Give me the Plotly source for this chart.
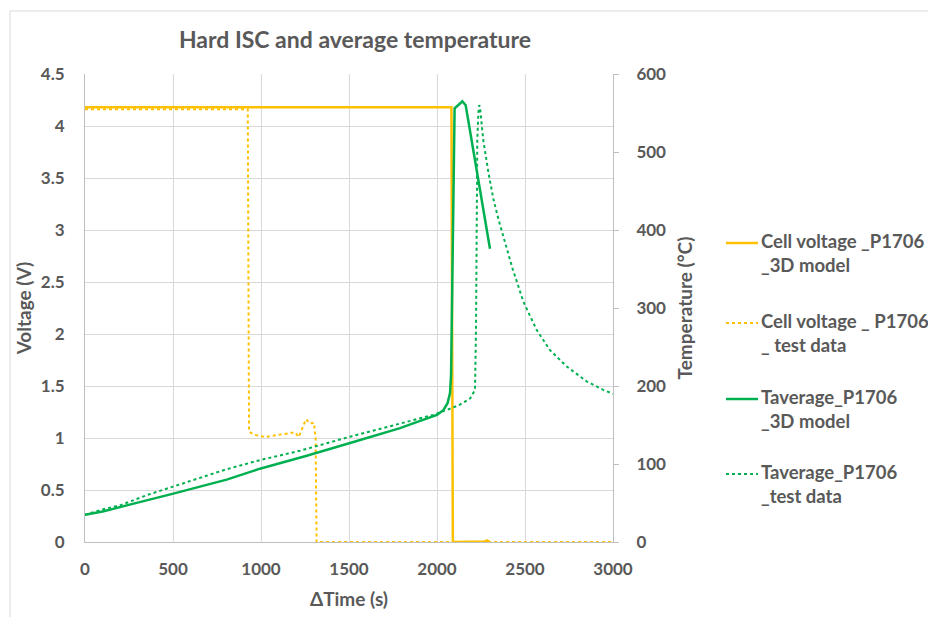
import plotly.graph_objects as go

# cell voltage, 3D model
t_v_model = [0, 2082, 2090, 2200, 2270, 2285, 2300]
v_model = [4.18, 4.18, 0.0, 0.0, 0.005, 0.015, 0.0]

# cell voltage, test data
t_v_test = [0, 925, 932, 966, 1023, 1108, 1193, 1214, 1231, 1256, 1278, 1301, 1310, 1316, 3000]
v_test = [4.16, 4.16, 1.06, 1.03, 1.01, 1.03, 1.055, 1.01, 1.08, 1.18, 1.14, 1.145, 1.0, 0.0, 0.0]

# average temperature, 3D model
t_T_model = [0, 100, 237, 400, 502, 653, 805, 994, 1250, 1506, 1790, 1900, 2000, 2036,
             2060, 2074, 2080, 2085, 2095, 2100, 2120, 2144, 2163, 2301]
T_model = [35, 39, 47, 56, 62, 71, 80, 94, 110, 127, 146, 155, 163, 169,
           178, 191, 215, 300, 520, 556, 560, 565, 560, 376]

# average temperature, test data
t_T_test = [0, 104, 199, 350, 500, 653, 800, 994, 1222, 1506, 1790, 1979, 2064, 2130,
            2188, 2216, 2222, 2225, 2229, 2235, 2240, 2244, 2263, 2292, 2320, 2350,
            2380, 2430, 2491, 2566, 2642, 2737, 2850, 2945, 3000]
T_test = [35, 42, 47, 60, 71, 82, 93, 105, 117, 135, 152, 163, 170, 176,
          184, 195, 281, 409, 515, 550, 560, 558, 515, 474, 440, 413,
          388, 350, 308, 272, 246, 225, 206, 195, 190]

names = ["Cell voltage _P1706<br>_3D model",
         "Cell voltage _ P1706<br>_ test data",
         "Taverage_P1706<br>_3D model",
         "Taverage_P1706<br>_test data"]

ORANGE = "#FFC000"
GREEN = "#00B050"
GREY = "#595959"
FONT = "Lato"

# plot area in figure pixels (page has an 8px body margin)
L, T, W, H = 77, 66, 528, 468


def px(x):
    return (x - L) / W


def py(y):
    return (T + H - y) / H


styles = [(ORANGE, 2.5, "solid"), (ORANGE, 2, "dot"), (GREEN, 2.5, "solid"), (GREEN, 2, "dot")]
series = [(t_v_model, v_model, "y"), (t_v_test, v_test, "y"),
          (t_T_model, T_model, "y2"), (t_T_test, T_test, "y2")]

fig = go.Figure()
for (xs, ys, ax), (col, w, dash), nm in zip(series, styles, names):
    fig.add_trace(go.Scatter(x=xs, y=ys, mode="lines", name=nm,
                             line=dict(color=col, width=w, dash=dash),
                             yaxis=ax, showlegend=False))

# legend drawn by hand so it can sit right at the edge like the original
legend_y = [235, 315, 391, 466]
for (col, w, dash), nm, ly in zip(styles, names, legend_y):
    fig.add_shape(type="line", xref="paper", yref="paper",
                  x0=px(718), x1=px(750), y0=py(ly), y1=py(ly),
                  line=dict(color=col, width=w, dash=dash))
    fig.add_annotation(xref="paper", yref="paper", x=px(751), y=py(ly - 15),
                       xanchor="left", yanchor="top", align="left", showarrow=False,
                       text=nm, font=dict(family=FONT, size=18.5, color=GREY, weight="bold"))

# light frame round the whole chart
fig.add_shape(type="rect", xref="paper", yref="paper",
              x0=px(2), x1=2.0, y0=-0.5, y1=py(3),
              line=dict(color="#D9D9D9", width=1), layer="below")

fig.update_layout(
    width=936, height=617,
    margin=dict(l=L, r=936 - L - W, t=T, b=617 - T - H, autoexpand=False),
    paper_bgcolor="white", plot_bgcolor="white",
    font=dict(family=FONT, color=GREY, size=16, weight="bold"),
    title=dict(text="Hard ISC and average temperature", x=347 / 936, xanchor="center",
               y=1 - 32 / 617, yanchor="middle",
               font=dict(family=FONT, size=23, color=GREY, weight="bold")),
    xaxis=dict(range=[0, 3000], dtick=500, showgrid=True, gridcolor="#D9D9D9",
               showline=True, linecolor="#BFBFBF", zeroline=False,
               ticks="outside", ticklen=12, tickcolor="rgba(0,0,0,0)",
               title=dict(text="ΔTime (s)", standoff=14),
               tickfont=dict(size=17, color=GREY)),
    yaxis=dict(range=[0, 4.5], dtick=0.5, showgrid=True, gridcolor="#D9D9D9",
               showline=True, linecolor="#BFBFBF", zeroline=False,
               ticks="outside", ticklen=16, tickcolor="rgba(0,0,0,0)",
               title=dict(text="Voltage (V)", standoff=4),
               tickfont=dict(size=17, color=GREY)),
    yaxis2=dict(range=[0, 600], dtick=100, overlaying="y", side="right",
                showgrid=False, showline=True, linecolor="#BFBFBF", zeroline=False,
                ticks="outside", ticklen=5, tickcolor="#BFBFBF",
                ticklabelstandoff=14,
                title=dict(text="Temperature (°C)", standoff=13),
                tickfont=dict(size=17, color=GREY)),
    showlegend=False,
)

fig.write_html("out.html")
